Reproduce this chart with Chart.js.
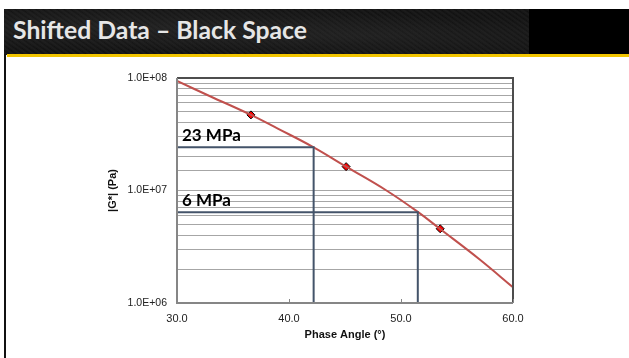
<!DOCTYPE html>
<html>
<head>
<meta charset="utf-8">
<script src="https://cdn.jsdelivr.net/npm/chart.js@4.4.1/dist/chart.umd.min.js"></script>
<style>
    html, body { margin: 0; padding: 0; background: #fff; }
    body { width: 629px; height: 358px; position: relative; overflow: hidden; }
    #band { position: absolute; left: 4px; top: 9px; width: 625px; height: 46px; background: #000; }
    #texture {
        position: absolute; left: 0; top: 0; width: 525px; height: 46px;
        background:
            radial-gradient(ellipse at 20% 40%, rgba(60,60,60,0.35), rgba(0,0,0,0) 60%),
            radial-gradient(ellipse at 70% 60%, rgba(55,55,55,0.3), rgba(0,0,0,0) 55%),
            repeating-linear-gradient(35deg, #141414 0px, #1c1c1c 2px, #101010 4px),
            #151515;
    }
    #title {
        position: absolute; left: 9px; top: 6px; display: inline-block; white-space: nowrap;
        font-family: Lato, "Open Sans", sans-serif; font-weight: bold; font-size: 24px;
        color: #e6e6e6; transform-origin: left center;
    }
    #gold { position: absolute; left: 7px; top: 54px; width: 622px; height: 3px; background: #f2c500; }
    #edge { position: absolute; left: 4px; top: 54px; width: 2px; height: 304px; background: #111; }
    #chartBox { position: absolute; left: 0; top: 60px; width: 629px; height: 298px; }
</style>
</head>
<body>
<div id="band"><div id="texture"></div><span id="title">Shifted Data – Black Space</span></div>
<div id="gold"></div>
<div id="edge"></div>
<div id="chartBox"><canvas id="myChart" width="629" height="298"></canvas></div>
<script>
// fitted master curve
const curveAngle = [30, 33, 36.6, 39, 42.2, 45.1, 48.7, 51.5, 53.5, 57, 60];
const curveModulus = [9.4e7, 6.85e7, 4.7e7, 3.55e7, 2.42e7, 1.63e7, 1.0e7, 6.45e6, 4.55e6, 2.45e6, 1.38e6];

// measured points (red diamonds)
const measuredAngle = [36.6, 45.1, 53.5];
const measuredModulus = [4.7e7, 1.63e7, 4.57e6];

// reference lines
const refAngle = [42.2, 51.5];
const refModulus = [2.42e7, 6.4e6];
const refLabels = ['23 MPa', '6 MPa'];

const xTicks = [30, 40, 50, 60];
const xTickLabels = ['30.0', '40.0', '50.0', '60.0'];
const yTicks = [1e6, 1e7, 1e8];
const yTickLabels = ['1.0E+06', '1.0E+07', '1.0E+08'];

const title = document.getElementById('title');
const tw = title.getBoundingClientRect().width;
title.style.transform = 'scaleX(' + (294 / tw) + ')';

let datasets = [];
refAngle.forEach(function (a, i) {
    datasets.push({
        type: 'line',
        data: [{x: xTicks[0], y: refModulus[i]}, {x: a, y: refModulus[i]}, {x: a, y: yTicks[0]}],
        borderColor: '#44546a',
        borderWidth: 2,
        pointRadius: 0,
        tension: 0
    });
});
datasets.push({
    type: 'line',
    data: curveAngle.map(function (a, i) { return {x: a, y: curveModulus[i]}; }),
    borderColor: '#c0504d',
    borderWidth: 2,
    pointRadius: 0,
    tension: 0.4
});
datasets.push({
    type: 'scatter',
    data: measuredAngle.map(function (a, i) { return {x: a, y: measuredModulus[i]}; }),
    pointStyle: 'rectRot',
    pointRadius: 4,
    backgroundColor: '#ff0000',
    borderColor: '#000',
    borderWidth: 1
});

const frame = {
    id: 'frame',
    afterDatasetsDraw(chart) {
        const c = chart.ctx, a = chart.chartArea, xs = chart.scales.x;
        c.save();
        c.lineWidth = 2;
        c.strokeStyle = '#4d4d4d';
        c.beginPath();
        c.moveTo(a.left, a.top);
        c.lineTo(a.right, a.top);
        c.lineTo(a.right, a.bottom);
        c.stroke();
        c.strokeStyle = '#868686';
        c.beginPath();
        c.moveTo(a.left, a.top);
        c.lineTo(a.left, a.bottom);
        c.lineTo(a.right, a.bottom);
        c.stroke();
        c.lineWidth = 1;
        xTicks.forEach(function (v) {
            const px = Math.round(xs.getPixelForValue(v)) + 0.5;
            c.beginPath();
            c.moveTo(px, a.bottom);
            c.lineTo(px, a.bottom - 4);
            c.stroke();
        });
        // labels for reference lines
        c.fillStyle = '#000';
        c.font = 'bold 17px Lato, "Open Sans", sans-serif';
        c.textBaseline = 'alphabetic';
        refLabels.forEach(function (t, i) {
            c.fillText(t, a.left + 5, chart.scales.y.getPixelForValue(refModulus[i]) - 6);
        });
        c.restore();
    }
};

new Chart(document.getElementById('myChart'), {
    data: {datasets: datasets},
    options: {
        responsive: false,
        animation: false,
        layout: {padding: {left: 100, right: 116, top: 18, bottom: 0}},
        plugins: {legend: {display: false}, tooltip: {enabled: false}},
        scales: {
            x: {
                type: 'linear',
                min: 30,
                max: 60,
                afterFit: function (s) { s.height = 55; },
                afterBuildTicks: function (s) { s.ticks = xTicks.map(function (v) { return {value: v}; }); },
                grid: {display: false, drawTicks: false},
                border: {display: false},
                ticks: {
                    padding: 9,
                    color: '#222',
                    font: {family: '"Liberation Sans", Arial', size: 11},
                    callback: function (v) { return xTickLabels[xTicks.indexOf(v)]; }
                },
                title: {
                    display: true,
                    text: 'Phase Angle (°)',
                    color: '#111',
                    font: {family: '"Liberation Sans", Arial', size: 11, weight: 'bold'},
                    padding: {top: 4, bottom: 16}
                }
            },
            y: {
                type: 'logarithmic',
                min: 1e6,
                max: 1e8,
                afterFit: function (s) { s.width = 77; },
                grid: {color: '#a6a6a6', lineWidth: 1, drawTicks: false},
                border: {display: false},
                ticks: {
                    autoSkip: false,
                    padding: 10,
                    color: '#222',
                    font: {family: '"Liberation Sans", Arial', size: 10.5},
                    callback: function (v) {
                        const i = yTicks.indexOf(v);
                        return i >= 0 ? yTickLabels[i] : '';
                    }
                },
                title: {
                    display: true,
                    text: '|G*| (Pa)',
                    color: '#111',
                    font: {family: '"Liberation Sans", Arial', size: 11, weight: 'bold'},
                    padding: {top: 6, bottom: 0}
                }
            }
        }
    },
    plugins: [frame]
});
</script>
</body>
</html>
